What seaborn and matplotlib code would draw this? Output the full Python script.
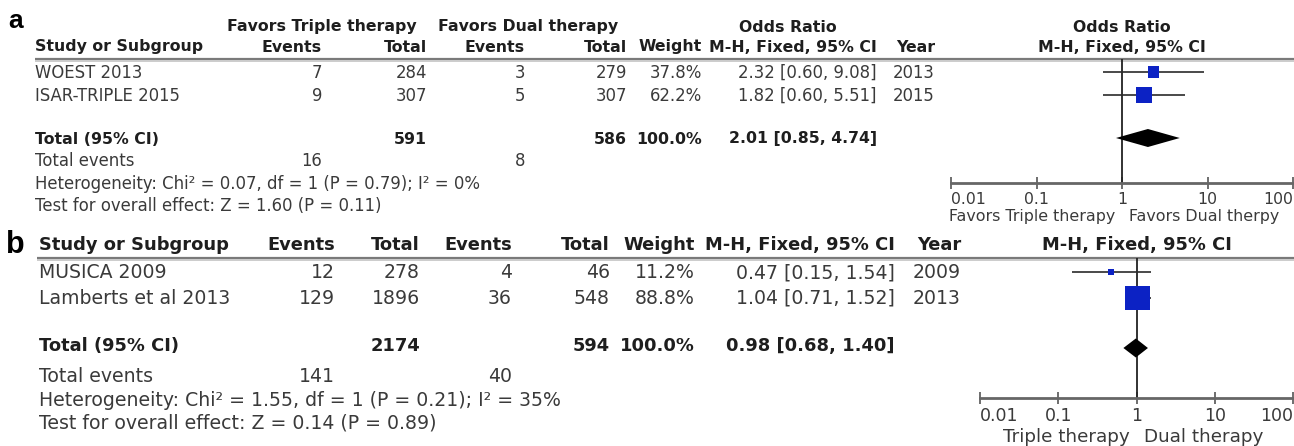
import numpy as np
import matplotlib
matplotlib.use("Agg")
import matplotlib.pyplot as plt
from matplotlib.ticker import NullLocator
import seaborn as sns

# ---------------- data: panel a ----------------
a_studies = ["WOEST 2013", "ISAR-TRIPLE 2015"]
a_triple_events = [7, 9]
a_triple_total = [284, 307]
a_dual_events = [3, 5]
a_dual_total = [279, 307]
a_weight = [37.8, 62.2]
a_or = [2.32, 1.82]
a_lo = [0.60, 0.60]
a_hi = [9.08, 5.51]
a_year = [2013, 2015]
a_pooled = [2.01, 0.85, 4.74]          # OR, lower, upper
a_sum_total = [591, 586]
a_sum_events = [16, 8]
a_het = "Heterogeneity: Chi\u00b2 = 0.07, df = 1 (P = 0.79); I\u00b2 = 0%"
a_test = "Test for overall effect: Z = 1.60 (P = 0.11)"

# ---------------- data: panel b ----------------
b_studies = ["MUSICA 2009", "Lamberts et al 2013"]
b_triple_events = [12, 129]
b_triple_total = [278, 1896]
b_dual_events = [4, 36]
b_dual_total = [46, 548]
b_weight = [11.2, 88.8]
b_or = [0.47, 1.04]
b_lo = [0.15, 0.71]
b_hi = [1.54, 1.52]
b_year = [2009, 2013]
b_pooled = [0.98, 0.68, 1.40]
b_sum_total = [2174, 594]
b_sum_events = [141, 40]
b_het = "Heterogeneity: Chi\u00b2 = 1.55, df = 1 (P = 0.21); I\u00b2 = 35%"
b_test = "Test for overall effect: Z = 0.14 (P = 0.89)"

tick_vals = [0.01, 0.1, 1, 10, 100]
tick_labels = ["0.01", "0.1", "1", "10", "100"]

sns.set_theme(style="white")
plt.rcParams["font.family"] = ["DejaVu Sans"]

W, H = 1294, 446
fig = plt.figure(figsize=(W / 100, H / 100), dpi=100)
fig.patch.set_facecolor("white")

# canvas in pixel units for the table text
cv = fig.add_axes([0, 0, 1, 1])
cv.set_xlim(0, W)
cv.set_ylim(H, 0)
cv.axis("off")

REG = "#3a3a3a"
BLD = "#1e1e1e"
BLUE = "#0c22c4"


def txt(x, y, s, fs, ha="left", bold=False, color=None):
    cv.text(x, y, s, fontsize=fs, ha=ha, va="center",
            fontweight="bold" if bold else "normal",
            color=color or (BLD if bold else REG))


def header_rule(x0, y):
    cv.plot([x0, W], [y, y], color="#7a7a7a", lw=1.6, solid_capstyle="butt")
    cv.plot([x0, W], [y + 2.2, y + 2.2], color="#c4c4c4", lw=1.2, solid_capstyle="butt")


def forest(x0, x1, ytop, ybot, rows, ors, los, his, weights, pooled, prow,
           scale, dh, fs_tick, fs_lab, lab_y, lab_left, lab_right, gap):
    ax = fig.add_axes([x0 / W, 1 - ybot / H, (x1 - x0) / W, (ybot - ytop) / H])
    ax.set_facecolor("none")
    ax.axvline(1, color="#222222", lw=1.3, zorder=1)
    ax.hlines(rows, los, his, color="#2a2a2a", lw=1.2, zorder=2)
    sides_pt = [scale * w ** 0.7 * 0.72 for w in weights]
    sns.scatterplot(x=ors, y=rows, marker="s", s=[sp ** 2 for sp in sides_pt],
                    color=BLUE, linewidth=0, ax=ax, zorder=3, legend=False)
    est, lo, hi = pooled
    ax.fill([lo, est, hi, est], [prow, prow - dh, prow, prow + dh],
            color="black", lw=0, zorder=3)
    ax.set_xscale("log")
    ax.set_xlim(0.01, 100)
    ax.set_ylim(ybot, ytop)
    ax.set_xlabel("")
    ax.set_ylabel("")
    ax.set_yticks([])
    ax.set_xticks(tick_vals)
    ax.set_xticklabels(tick_labels)
    ax.xaxis.set_minor_locator(NullLocator())
    ax.tick_params(axis="x", direction="inout", length=9, width=1.2,
                   color="#555555", labelsize=fs_tick, labelcolor=REG, pad=2,
                   bottom=True)
    labs = ax.get_xticklabels()
    labs[0].set_horizontalalignment("left")
    labs[-1].set_horizontalalignment("right")
    for side in ["top", "left", "right"]:
        ax.spines[side].set_visible(False)
    ax.spines["bottom"].set_color("#666666")
    ax.spines["bottom"].set_linewidth(2.0)
    xm = x0 + (x1 - x0) / 2
    txt(xm - gap, lab_y, lab_left, fs_lab, ha="right")
    txt(xm + gap, lab_y, lab_right, fs_lab, ha="left")
    return ax


# ================= panel a =================
FA, FAB = 11.9, 11.3
cv.text(16, 21, "a", fontsize=19, fontweight="bold", ha="center", va="center",
        family="Liberation Sans", color="black")
txt(322, 27, "Favors Triple therapy", FAB, ha="center", bold=True)
txt(528, 27, "Favors Dual therapy", FAB, ha="center", bold=True)
txt(788, 27, "Odds Ratio", FAB, ha="center", bold=True)
txt(1122, 27, "Odds Ratio", FAB, ha="center", bold=True)
ya = 47
txt(35, ya, "Study or Subgroup", FAB, bold=True)
txt(322, ya, "Events", FAB, ha="right", bold=True)
txt(427, ya, "Total", FAB, ha="right", bold=True)
txt(525, ya, "Events", FAB, ha="right", bold=True)
txt(627, ya, "Total", FAB, ha="right", bold=True)
txt(702, ya, "Weight", FAB, ha="right", bold=True)
txt(877, ya, "M-H, Fixed, 95% CI", FAB, ha="right", bold=True)
txt(935, ya, "Year", FAB, ha="right", bold=True)
txt(1122, ya, "M-H, Fixed, 95% CI", FAB, ha="center", bold=True)
header_rule(35, 59)

a_rows = [73, 96]
for i, r in enumerate(a_rows):
    txt(35, r, a_studies[i], FA)
    txt(322, r, str(a_triple_events[i]), FA, ha="right")
    txt(427, r, str(a_triple_total[i]), FA, ha="right")
    txt(525, r, str(a_dual_events[i]), FA, ha="right")
    txt(627, r, str(a_dual_total[i]), FA, ha="right")
    txt(702, r, f"{a_weight[i]:.1f}%", FA, ha="right")
    txt(877, r, f"{a_or[i]:.2f} [{a_lo[i]:.2f}, {a_hi[i]:.2f}]", FA, ha="right")
    txt(935, r, str(a_year[i]), FA, ha="right")
ra = 139
txt(35, ra, "Total (95% CI)", FAB, bold=True)
txt(427, ra, str(a_sum_total[0]), FAB, ha="right", bold=True)
txt(627, ra, str(a_sum_total[1]), FAB, ha="right", bold=True)
txt(702, ra, "100.0%", FAB, ha="right", bold=True)
txt(877, ra, f"{a_pooled[0]:.2f} [{a_pooled[1]:.2f}, {a_pooled[2]:.2f}]", FAB,
    ha="right", bold=True)
txt(35, 161, "Total events", FA)
txt(322, 161, str(a_sum_events[0]), FA, ha="right")
txt(525, 161, str(a_sum_events[1]), FA, ha="right")
txt(35, 184, a_het, FA)
txt(35, 206, a_test, FA)

forest(951, 1293, 59, 183, [72, 95], a_or, a_lo, a_hi, a_weight, a_pooled, 138,
       scale=0.87, dh=9, fs_tick=11.3, fs_lab=11.4, lab_y=217,
       lab_left="Favors Triple therapy", lab_right="Favors Dual therpy", gap=7)

# ================= panel b =================
FB, FBB = 13.6, 12.9
cv.text(15, 245, "b", fontsize=22, fontweight="bold", ha="center", va="center",
        family="Liberation Sans", color="black")
yb = 245
txt(39, yb, "Study or Subgroup", FBB, bold=True)
txt(335, yb, "Events", FBB, ha="right", bold=True)
txt(420, yb, "Total", FBB, ha="right", bold=True)
txt(512, yb, "Events", FBB, ha="right", bold=True)
txt(610, yb, "Total", FBB, ha="right", bold=True)
txt(695, yb, "Weight", FBB, ha="right", bold=True)
txt(895, yb, "M-H, Fixed, 95% CI", FBB, ha="right", bold=True)
txt(961, yb, "Year", FBB, ha="right", bold=True)
txt(1137, yb, "M-H, Fixed, 95% CI", FBB, ha="center", bold=True)
header_rule(37, 258)

b_rows = [273, 298]
for i, r in enumerate(b_rows):
    txt(39, r, b_studies[i], FB)
    txt(335, r, str(b_triple_events[i]), FB, ha="right")
    txt(420, r, str(b_triple_total[i]), FB, ha="right")
    txt(512, r, str(b_dual_events[i]), FB, ha="right")
    txt(610, r, str(b_dual_total[i]), FB, ha="right")
    txt(695, r, f"{b_weight[i]:.1f}%", FB, ha="right")
    txt(895, r, f"{b_or[i]:.2f} [{b_lo[i]:.2f}, {b_hi[i]:.2f}]", FB, ha="right")
    txt(961, r, str(b_year[i]), FB, ha="right")
rb = 346
txt(39, rb, "Total (95% CI)", FBB, bold=True)
txt(420, rb, str(b_sum_total[0]), FBB, ha="right", bold=True)
txt(610, rb, str(b_sum_total[1]), FBB, ha="right", bold=True)
txt(695, rb, "100.0%", FBB, ha="right", bold=True)
txt(895, rb, f"{b_pooled[0]:.2f} [{b_pooled[1]:.2f}, {b_pooled[2]:.2f}]", FBB,
    ha="right", bold=True)
txt(39, 377, "Total events", FB)
txt(335, 377, str(b_sum_events[0]), FB, ha="right")
txt(512, 377, str(b_sum_events[1]), FB, ha="right")
txt(39, 400, b_het, FB)
txt(39, 423, b_test, FB)

forest(980, 1293, 258, 398, [272, 298], b_or, b_lo, b_hi, b_weight, b_pooled, 348,
       scale=1.08, dh=9.5, fs_tick=12.5, fs_lab=13.2, lab_y=437,
       lab_left="Triple therapy", lab_right="Dual therapy", gap=7)

fig.savefig("out.png", dpi=100, facecolor="white")
